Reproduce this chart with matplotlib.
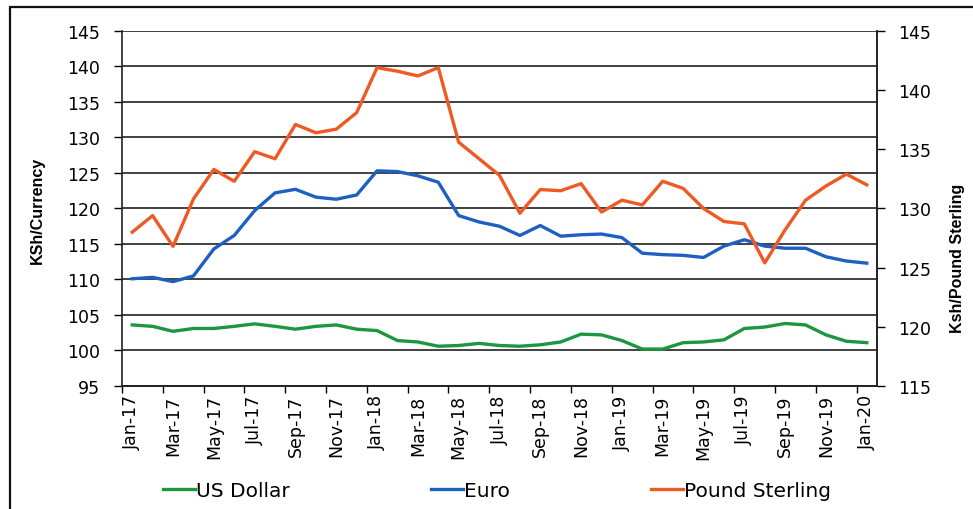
import numpy as np
import matplotlib.pyplot as plt
from matplotlib.patches import Rectangle

plt.rcParams['font.family'] = ['DejaVu Sans']

# Monatsbeschriftungen Jan-17 bis Jan-20
monate = ['Jan-17', 'Feb-17', 'Mar-17', 'Apr-17', 'May-17', 'Jun-17', 'Jul-17', 'Aug-17',
          'Sep-17', 'Oct-17', 'Nov-17', 'Dec-17', 'Jan-18', 'Feb-18', 'Mar-18', 'Apr-18',
          'May-18', 'Jun-18', 'Jul-18', 'Aug-18', 'Sep-18', 'Oct-18', 'Nov-18', 'Dec-18',
          'Jan-19', 'Feb-19', 'Mar-19', 'Apr-19', 'May-19', 'Jun-19', 'Jul-19', 'Aug-19',
          'Sep-19', 'Oct-19', 'Nov-19', 'Dec-19', 'Jan-20']

# KSh je Waehrung (linke Achse)
us_dollar = [103.6, 103.4, 102.7, 103.1, 103.1, 103.4, 103.75, 103.4, 103.0, 103.4, 103.6, 103.0,
             102.8, 101.4, 101.2, 100.6, 100.7, 101.0, 100.7, 100.6, 100.8, 101.2, 102.3, 102.2,
             101.4, 100.2, 100.2, 101.1, 101.2, 101.5, 103.1, 103.3, 103.8, 103.6, 102.2, 101.3,
             101.1]
euro = [110.1, 110.3, 109.7, 110.5, 114.3, 116.2, 119.7, 122.2, 122.7, 121.6, 121.3, 121.9,
        125.3, 125.2, 124.6, 123.7, 119.0, 118.1, 117.5, 116.2, 117.6, 116.1, 116.3, 116.4,
        115.9, 113.7, 113.5, 113.4, 113.1, 114.7, 115.6, 114.7, 114.4, 114.4, 113.2, 112.6,
        112.3]

# KSh je Pfund (rechte Achse)
pfund = [128.0, 129.4, 126.8, 130.8, 133.3, 132.3, 134.8, 134.2, 137.1, 136.4, 136.7, 138.1,
         141.9, 141.6, 141.2, 141.9, 135.6, 134.2, 132.8, 129.6, 131.6, 131.5, 132.1, 129.7,
         130.7, 130.3, 132.3, 131.7, 130.0, 128.9, 128.7, 125.4, 128.2, 130.7, 131.9, 132.9,
         132.0]

x = np.arange(len(monate)) + 0.5

fig = plt.figure(figsize=(9.73, 5.10), dpi=100)
ax = fig.add_axes([0.1254, 0.2412, 0.7759, 0.6961])
ax2 = ax.twinx()

# Linien zeichnen
l1, = ax.plot(x, us_dollar, color='#1c9640', lw=2.4, label='US Dollar')
l2, = ax.plot(x, euro, color='#1f5fbf', lw=2.4, label='Euro')
l3, = ax2.plot(x, pfund, color='#ee5a24', lw=2.4, label='Pound Sterling')

# Linke Achse
ax.set_xlim(0, len(monate))
ax.set_ylim(95, 145)
ax.set_yticks(np.arange(95, 146, 5))
ax.yaxis.grid(True, color='#333333', lw=1.3)
ax.set_axisbelow(True)
ax.tick_params(axis='y', labelsize=12.5, length=6, width=1, direction='out', pad=10)

# Rechte Achse
ax2.set_ylim(115, 145)
ax2.set_yticks(np.arange(115, 146, 5))
ax2.tick_params(axis='y', labelsize=12.5, length=6, width=1, direction='out', pad=9)

# X-Achse: Beschriftung mittig, Striche an den Grenzen
ax.set_xticks(x[::2])
ax.set_xticklabels(monate[::2], rotation=90, fontsize=12.5)
ax.tick_params(axis='x', which='major', length=0, pad=6)
ax.set_xticks(np.arange(0, len(monate), 2), minor=True)
ax.tick_params(axis='x', which='minor', length=5, width=1, direction='out')

for a in (ax, ax2):
    a.spines['top'].set_visible(False)
    for s in ('left', 'right', 'bottom'):
        a.spines[s].set_color('#222222')
        a.spines[s].set_linewidth(1.2)
ax2.spines['left'].set_visible(False)

# Achsentitel
fig.text(0.038, 0.588, 'KSh/Currency', rotation=90, ha='center', va='center',
         fontsize=11.5, fontweight='bold', family='Liberation Sans')
fig.text(0.984, 0.494, 'Ksh/Pound Sterling', rotation=90, ha='center', va='center',
         fontsize=11.5, fontweight='bold', family='Liberation Sans')

# Legende
fig.legend(handles=[l1, l2, l3], loc='center', bbox_to_anchor=(0.511, 0.037), ncol=3,
           frameon=False, fontsize=14.5, handlelength=1.6, handletextpad=0.05,
           columnspacing=7.0)

# Rahmen
fig.patches.append(Rectangle((10 / 973, -0.1), 1.2, 1.1 - 8 / 510, transform=fig.transFigure,
                             fill=False, edgecolor='#111111', lw=1.6))

fig.savefig('out.png', dpi=100)
